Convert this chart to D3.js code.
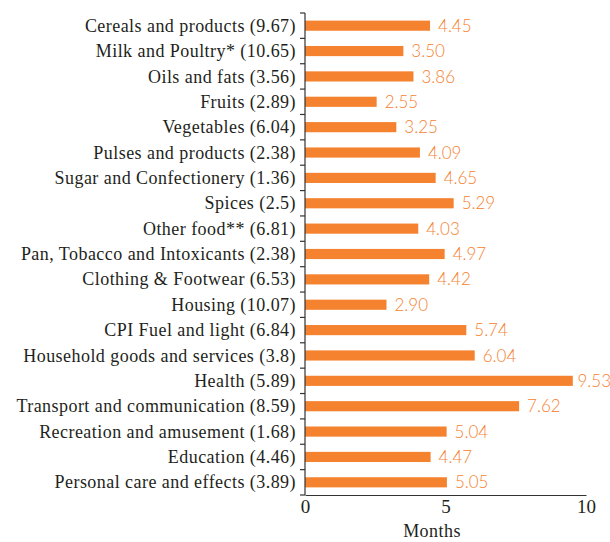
<!DOCTYPE html>
<html>
<head>
<meta charset="utf-8">
<script src="https://d3js.org/d3.v7.min.js"></script>
<style>
  body { margin: 0; background: #fff; }
  .cat { font-family: "Liberation Serif", serif; font-size: 18px; letter-spacing: 0.45px; fill: #231f20; }
  .val { font-family: "Lato", sans-serif; font-weight: 300; font-size: 17px; fill: #f5822f; }
  .tick text { font-family: "Liberation Serif", serif; font-size: 19px; fill: #231f20; }
</style>
</head>
<body>
<div id="chart"></div>
<script>
// category labels (with weights) and months values
var categories = [
  "Cereals and products (9.67)",
  "Milk and Poultry* (10.65)",
  "Oils and fats (3.56)",
  "Fruits (2.89)",
  "Vegetables (6.04)",
  "Pulses and products (2.38)",
  "Sugar and Confectionery (1.36)",
  "Spices (2.5)",
  "Other food** (6.81)",
  "Pan, Tobacco and Intoxicants (2.38)",
  "Clothing & Footwear (6.53)",
  "Housing (10.07)",
  "CPI Fuel and light (6.84)",
  "Household goods and services (3.8)",
  "Health (5.89)",
  "Transport and communication (8.59)",
  "Recreation and amusement (1.68)",
  "Education (4.46)",
  "Personal care and effects (3.89)"
];
var months = [4.45, 3.50, 3.86, 2.55, 3.25, 4.09, 4.65, 5.29, 4.03, 4.97, 4.42, 2.90, 5.74, 6.04, 9.53, 7.62, 5.04, 4.47, 5.05];
var xTicks = [0, 5, 10];

var width = 610, height = 542;
var margin = { top: 13, right: 24, bottom: 47, left: 305 };

var svg = d3.select("#chart").append("svg")
  .attr("width", width)
  .attr("height", height);

var x = d3.scaleLinear()
  .domain([0, 10])
  .range([margin.left, width - margin.right]);

var y = d3.scaleBand()
  .domain(categories)
  .range([margin.top, height - margin.bottom])
  .paddingInner(0.6)
  .paddingOuter(0.3);

// bars
svg.selectAll("rect.bar")
  .data(categories)
  .enter().append("rect")
  .attr("class", "bar")
  .attr("x", x(0))
  .attr("y", function(d) { return y(d); })
  .attr("width", function(d, i) { return x(months[i]) - x(0); })
  .attr("height", y.bandwidth())
  .attr("fill", "#f5822f");

// value labels (pulled in if they would run off the right edge)
svg.selectAll("text.val")
  .data(categories)
  .enter().append("text")
  .attr("class", "val")
  .attr("y", function(d) { return y(d) + y.bandwidth() / 2; })
  .attr("dy", "0.36em")
  .text(function(d, i) { return months[i].toFixed(2); })
  .attr("x", function(d, i) {
    var w = this.getComputedTextLength();
    return Math.min(x(months[i]) + 8, width - w + 1);
  });

// category labels
svg.selectAll("text.cat")
  .data(categories)
  .enter().append("text")
  .attr("class", "cat")
  .attr("x", margin.left - 9)
  .attr("y", function(d) { return y(d) + y.bandwidth() / 2; })
  .attr("dy", "0.34em")
  .attr("text-anchor", "end")
  .text(function(d) { return d; });

// left axis with ticks between bands
var y0 = margin.top, y1 = height - margin.bottom;
var boundaries = d3.range(categories.length + 1).map(function(i) { return y0 + i * (y1 - y0) / categories.length; });
svg.append("line")
  .attr("x1", x(0)).attr("x2", x(0))
  .attr("y1", y0).attr("y2", y1)
  .attr("stroke", "#333").attr("stroke-width", 1.2);
svg.selectAll("line.ytick")
  .data(boundaries)
  .enter().append("line")
  .attr("class", "ytick")
  .attr("x1", x(0) - 5).attr("x2", x(0))
  .attr("y1", function(d) { return d; }).attr("y2", function(d) { return d; })
  .attr("stroke", "#333").attr("stroke-width", 1.2);

// bottom axis
var xAxis = svg.append("g")
  .attr("transform", "translate(0," + y1 + ")")
  .call(d3.axisBottom(x).tickValues(xTicks).tickSize(0).tickPadding(5).tickFormat(d3.format("d")));
xAxis.select(".domain").attr("stroke", "#333").attr("stroke-width", 1.2);

svg.append("text")
  .attr("class", "cat")
  .attr("x", 432)
  .attr("y", 537)
  .attr("text-anchor", "middle")
  .text("Months");
</script>
</body>
</html>
